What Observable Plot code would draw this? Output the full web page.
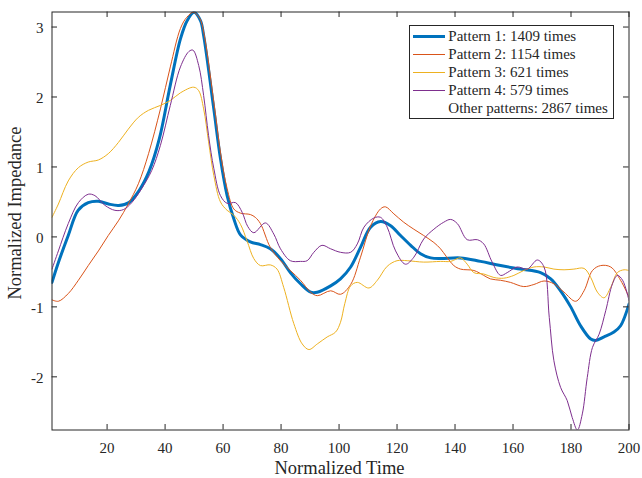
<!DOCTYPE html>
<html>
<head>
<meta charset="utf-8">
<script src="https://cdn.jsdelivr.net/npm/d3@7"></script>
<script src="https://cdn.jsdelivr.net/npm/@observablehq/plot@0.6"></script>
<style>
  body { margin: 0; background: #fff; }
  #wrap { position: relative; width: 642px; height: 478px; font-family: "Liberation Serif", "Times New Roman", serif; color: #262626; }
  #legend { position: absolute; left: 409px; top: 25px; width: 205px; height: 94px; box-sizing: border-box; border: 1px solid #262626; background: #fff; }
  .row { position: absolute; left: 0; height: 18px; line-height: 18px; font-size: 15px; white-space: nowrap; }
  .sw { position: absolute; left: 3.3px; width: 31.7px; }
  .lab { position: absolute; left: 38.3px; top: 0; }
</style>
</head>
<body>
<div id="wrap"><div id="chart"></div><div id="legend"></div></div>
<script>
// ---- data ----
const seriesNames = ["Pattern 1: 1409 times", "Pattern 2: 1154 times", "Pattern 3: 621 times", "Pattern 4: 579 times"];
const otherLabel = "Other patterns: 2867 times";
const seriesColors = ["#0072BD", "#D95319", "#EDB120", "#7E2F8E"];
const seriesWidths = [3, 1, 1, 1];

const t1 = [1, 3, 6.6, 10, 13.5, 17, 20.5, 24, 27.5, 31, 34.5, 38, 41.8, 45.3, 47.6, 50, 52.2, 53.3, 56.8, 59.1, 61.4, 63.7, 66, 69.4, 72.9, 76.3, 79.8, 83.2, 86.7, 90.2, 92.5, 97.1, 100.5, 104, 107.4, 110.9, 114.3, 117.8, 121.2, 124.7, 128.1, 131.6, 135, 141.9, 148.8, 155.7, 162.6, 169.5, 173, 176.4, 179.9, 183.3, 186.8, 188.5, 191.4, 194.8, 197.1, 200];
const v1 = [-0.65, -0.39, 0.02, 0.38, 0.49, 0.51, 0.47, 0.45, 0.49, 0.66, 0.94, 1.40, 2.17, 2.83, 3.09, 3.21, 3.09, 2.88, 1.83, 1.12, 0.59, 0.26, 0.03, -0.07, -0.11, -0.17, -0.31, -0.51, -0.67, -0.79, -0.79, -0.70, -0.60, -0.43, -0.15, 0.14, 0.22, 0.16, 0.02, -0.12, -0.24, -0.30, -0.31, -0.30, -0.35, -0.41, -0.46, -0.51, -0.60, -0.77, -1.00, -1.27, -1.46, -1.48, -1.43, -1.36, -1.27, -0.96];

const t2 = [1, 3.2, 6.6, 10.1, 13.5, 17, 20.4, 23.9, 27.3, 30.8, 34.3, 38.4, 41.8, 45.3, 47.5, 49.8, 52, 53.3, 56.8, 59.1, 61.4, 63.7, 66, 69.4, 71.1, 72.9, 76.3, 79.8, 83.2, 86.7, 90.2, 92.5, 97.1, 100.5, 104, 107.4, 110.9, 114.3, 116, 118.9, 122.3, 125.8, 129.2, 132.7, 135, 137, 139.6, 141.9, 146.5, 149.9, 152.2, 155.7, 159.1, 163.7, 167.2, 170.7, 174.1, 177.6, 181.6, 184.5, 187.4, 190.2, 193.7, 197.1, 200];
const v2 = [-0.90, -0.92, -0.81, -0.62, -0.41, -0.20, 0.02, 0.23, 0.47, 0.76, 1.19, 1.83, 2.43, 2.98, 3.14, 3.21, 3.12, 2.93, 1.93, 1.21, 0.69, 0.40, 0.34, 0.32, 0.28, 0.19, -0.15, -0.34, -0.48, -0.62, -0.79, -0.84, -0.77, -0.82, -0.68, -0.29, 0.16, 0.40, 0.43, 0.33, 0.21, 0.11, 0.02, -0.08, -0.17, -0.28, -0.41, -0.46, -0.48, -0.55, -0.60, -0.62, -0.65, -0.71, -0.68, -0.63, -0.67, -0.79, -0.92, -0.77, -0.48, -0.41, -0.43, -0.62, -0.86];

const t3 = [1, 3.2, 6.6, 10.1, 13.5, 17, 20.4, 23.9, 27.3, 30.8, 34.3, 38.4, 41.8, 45.3, 49.9, 51.6, 53.3, 55, 56.8, 59.1, 61.4, 63.7, 66, 68.3, 70.6, 72.9, 76.3, 78.6, 80.9, 84.4, 87.3, 89.6, 92.5, 95.9, 98.8, 100.5, 102, 104, 106.3, 110.3, 113.2, 116.6, 120, 123.5, 129.2, 135, 138.5, 141.9, 144.2, 146.5, 149.9, 153.4, 156.8, 160.3, 163.7, 167.2, 170.7, 174.1, 177.6, 181, 184.5, 186.8, 189.1, 191.4, 193.7, 196, 198.3, 200];
const v3 = [0.28, 0.47, 0.80, 0.99, 1.07, 1.10, 1.19, 1.35, 1.54, 1.71, 1.81, 1.88, 1.95, 2.06, 2.14, 2.09, 1.83, 1.36, 0.88, 0.50, 0.38, 0.31, 0.18, -0.06, -0.31, -0.41, -0.40, -0.46, -0.72, -1.24, -1.53, -1.61, -1.53, -1.43, -1.36, -1.22, -0.95, -0.70, -0.65, -0.73, -0.62, -0.42, -0.34, -0.34, -0.36, -0.35, -0.35, -0.30, -0.39, -0.51, -0.53, -0.58, -0.59, -0.55, -0.48, -0.43, -0.43, -0.46, -0.47, -0.46, -0.45, -0.58, -0.79, -0.87, -0.72, -0.51, -0.47, -0.48];

const t4 = [1, 3.2, 6.6, 10.1, 13.5, 15.8, 19.3, 22.7, 25.6, 28.5, 31.9, 35.4, 38.4, 41.8, 45.3, 48.2, 49.6, 51.6, 53.3, 55, 56.8, 59.1, 61.4, 64.3, 66.6, 68.5, 70.6, 74.6, 77.5, 79.8, 83.2, 86.7, 89, 91.3, 94.1, 97.1, 100.5, 104, 106.3, 108.6, 112, 114.3, 116.6, 119.5, 122.9, 125.8, 129.2, 132.7, 136.1, 138.5, 140.8, 144.2, 147.7, 149.9, 152.8, 155.7, 158, 161.4, 164.9, 168.4, 170.7, 172.5, 174.1, 176.4, 178.7, 180.4, 182.2, 183.9, 185.6, 187.4, 189.7, 192, 194.3, 196, 197.8, 200];
const v4 = [-0.46, -0.20, 0.19, 0.49, 0.61, 0.59, 0.45, 0.38, 0.39, 0.49, 0.69, 0.95, 1.31, 1.88, 2.43, 2.65, 2.67, 2.45, 2.02, 1.45, 0.98, 0.59, 0.48, 0.49, 0.35, 0.15, 0.06, 0.20, 0.04, -0.17, -0.34, -0.35, -0.34, -0.22, -0.12, -0.17, -0.22, -0.22, -0.10, 0.14, 0.27, 0.28, 0.14, -0.20, -0.39, -0.29, -0.03, 0.11, 0.21, 0.25, 0.19, -0.04, -0.04, -0.10, -0.36, -0.55, -0.51, -0.43, -0.46, -0.33, -0.43, -1.15, -1.77, -2.15, -2.34, -2.58, -2.76, -2.53, -2.01, -1.58, -1.39, -1.05, -0.67, -0.55, -0.62, -0.91];

const xTicks = [20, 40, 60, 80, 100, 120, 140, 160, 180, 200];
const yTicks = [-2, -1, 0, 1, 2, 3];
const xLabel = "Normalized Time";
const yLabel = "Normalized Impedance";

// ---- build ----
const ts = [t1, t2, t3, t4], vs = [v1, v2, v3, v4];
const series = ts.map((t, k) => t.map((x, i) => ({t: x, v: vs[k][i]})));

const W = 642, H = 478, mL = 51.5, mR = 13.5, mT = 11.5, mB = 48.5;
const fw = W - mL - mR, fh = H - mT - mB, tk = 5.5;
const ink = "#262626";

const lineMarks = series.map((d, k) => Plot.line(d, {
  x: "t", y: "v", stroke: seriesColors[k], strokeWidth: seriesWidths[k], curve: "catmull-rom", clip: true
}));

const chart = Plot.plot({
  width: W, height: H,
  marginLeft: mL, marginRight: mR, marginTop: mT, marginBottom: mB,
  style: {fontFamily: '"Liberation Serif", "Times New Roman", serif', fontSize: "15px", color: ink, background: "#fff"},
  x: {domain: [1, 200]},
  y: {domain: [-2.76, 3.215]},
  marks: [
    ...lineMarks,
    Plot.frame({stroke: ink, strokeWidth: 1}),
    Plot.tickX(xTicks, {x: d => d, stroke: ink, insetTop: fh - tk}),
    Plot.tickX(xTicks, {x: d => d, stroke: ink, insetBottom: fh - tk}),
    Plot.tickY(yTicks, {y: d => d, stroke: ink, insetRight: fw - tk}),
    Plot.tickY(yTicks, {y: d => d, stroke: ink, insetLeft: fw - tk}),
    Plot.axisX({ticks: xTicks, tickSize: 0, tickPadding: 12, fontSize: 15, fill: ink, tickFormat: d => String(d), label: null}),
    Plot.axisY({ticks: yTicks, tickSize: 0, tickPadding: 8.5, fontSize: 15, fill: ink, tickFormat: d => String(d), label: null, dy: 1.5}),
    Plot.text([xLabel], {text: d => d, frameAnchor: "bottom", lineAnchor: "middle", textAnchor: "middle", dy: 38.5, dx: -1, fontSize: 18.5, fill: ink}),
    Plot.text([yLabel], {text: d => d, frameAnchor: "left", lineAnchor: "middle", textAnchor: "middle", rotate: -90, dx: -36.5, dy: -8, fontSize: 18.5, fill: ink})
  ]
});
document.getElementById("chart").appendChild(chart);

// ---- legend (inside axes, MATLAB style) ----
const legend = document.getElementById("legend");
const labels = [...seriesNames, otherLabel];
labels.forEach((name, i) => {
  const row = document.createElement("div");
  row.className = "row";
  row.style.top = (1 + 18 * i) + "px";
  row.style.width = "200px";
  if (i < seriesColors.length) {
    const sw = document.createElement("div");
    sw.className = "sw";
    const w = seriesWidths[i];
    sw.style.top = (9.7 - w / 2) + "px";
    sw.style.height = w + "px";
    sw.style.background = seriesColors[i];
    row.appendChild(sw);
  }
  const lab = document.createElement("span");
  lab.className = "lab";
  lab.textContent = name;
  row.appendChild(lab);
  legend.appendChild(row);
});
</script>
</body>
</html>
